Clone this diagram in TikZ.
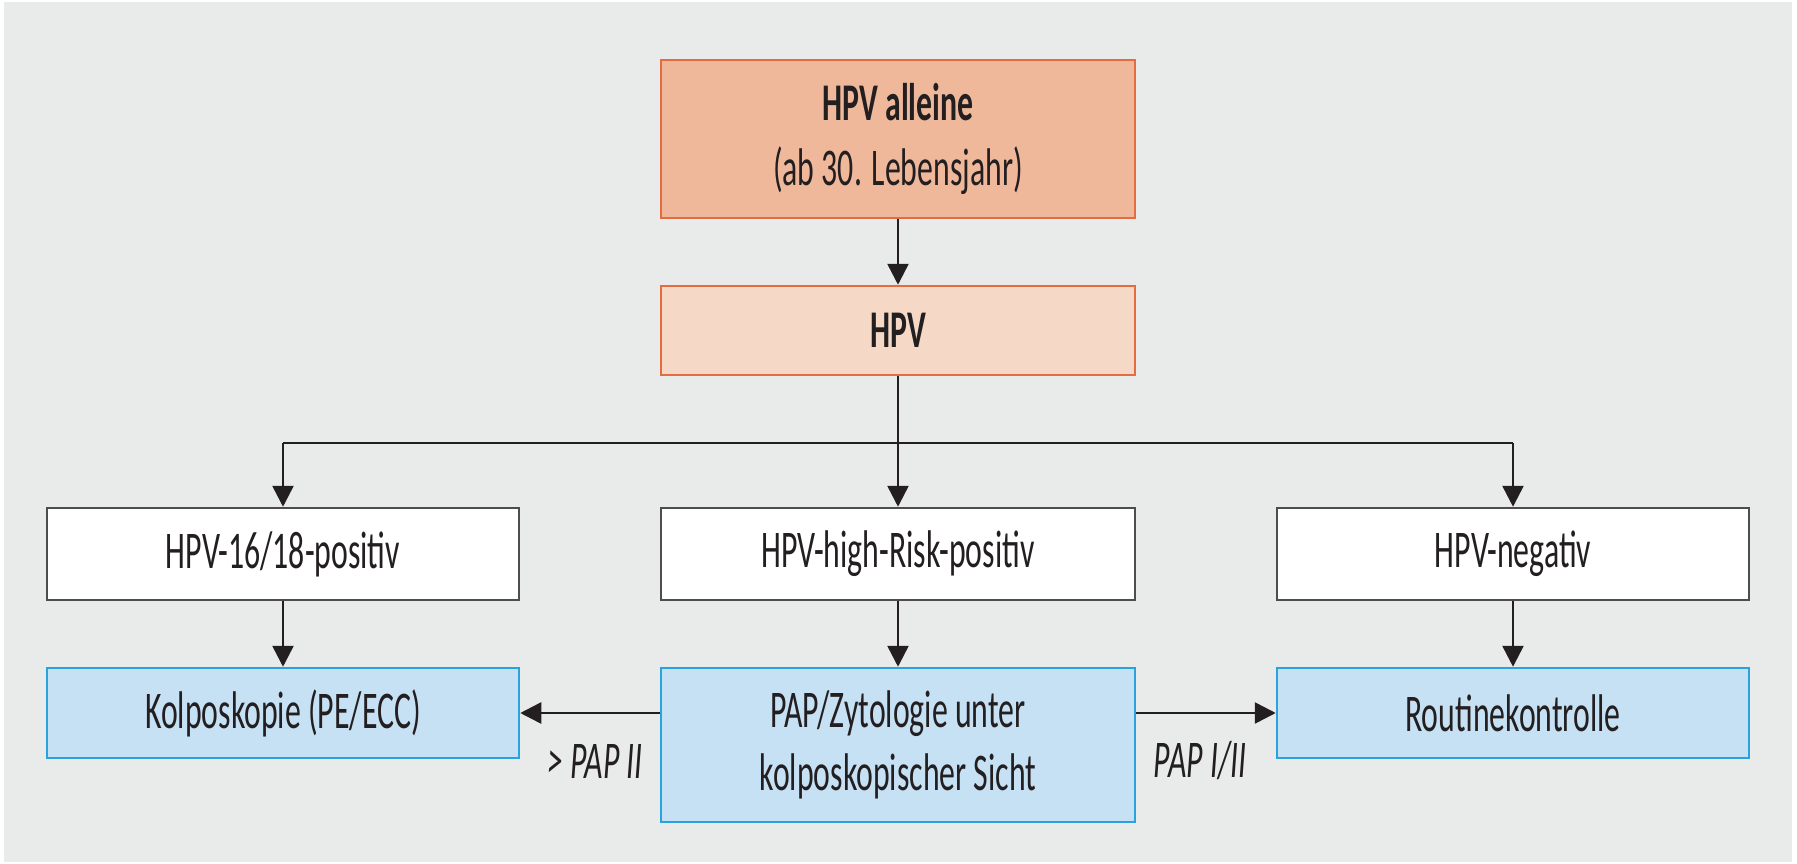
\documentclass[tikz,border=0pt]{standalone}
\usepackage{fontspec}
\setmainfont{Carlito}[FakeStretch=0.60]
\usetikzlibrary{arrows.meta}

\definecolor{bgc}{HTML}{E9EBEA}
\definecolor{ink}{HTML}{231F20}
\definecolor{salmon}{HTML}{EFB89B}
\definecolor{salmonlt}{HTML}{F5D8C6}
\definecolor{orangeline}{HTML}{E46C3E}
\definecolor{greyline}{HTML}{4D4D4D}
\definecolor{bluefill}{HTML}{C6E0F4}
\definecolor{blueline}{HTML}{29A3DD}

\tikzset{
  box/.style={draw, line width=2.5pt, inner sep=0pt, align=center,
    text=ink, font=\fontsize{53}{63}\selectfont},
  headbox/.style={box, draw=orangeline, fill=salmon, font=\fontsize{53}{65}\selectfont},
  subbox/.style={box, draw=orangeline, fill=salmonlt, font=\bfseries\fontsize{53}{63}\selectfont},
  resultbox/.style={box, draw=greyline, fill=white},
  actionbox/.style={box, draw=blueline, fill=bluefill},
  flow/.style={draw=ink, line width=2.6pt, -{Triangle[length=21pt,width=21pt]}},
  plain/.style={draw=ink, line width=2.6pt},
  edgelabel/.style={text=ink, font=\itshape\fontsize{53}{58}\selectfont}
}

\begin{document}
\begin{tikzpicture}[x=1pt,y=-1pt]
  \useasboundingbox (0,0) rectangle (1797,864);
  \fill[white] (0,0) rectangle (1797,864);
  \fill[bgc] (4,2) rectangle (1792,862);

  % top of the flow
  \node[headbox, minimum width=474pt, minimum height=158pt] (start) at (898,139)
    {\textbf{HPV alleine}\\(ab 30. Lebensjahr)};
  \node[subbox, minimum width=474pt, minimum height=89pt] (hpv) at (898,330.5) {HPV};

  % test results
  \node[resultbox, minimum width=472pt, minimum height=92pt] (pos1618) at (283,554) {HPV-16/18-positiv};
  \node[resultbox, minimum width=474pt, minimum height=92pt] (poshr) at (898,554) {HPV-high-Risk-positiv};
  \node[resultbox, minimum width=472pt, minimum height=92pt] (neg) at (1513,554) {HPV-negativ};

  % follow-up actions
  \node[actionbox, minimum width=472pt, minimum height=90pt] (kolpo) at (283,713) {Kolposkopie (PE/ECC)};
  \node[actionbox, minimum width=474pt, minimum height=154pt] (pap) at (898,745)
    {PAP/Zytologie unter\\kolposkopischer Sicht};
  \node[actionbox, minimum width=472pt, minimum height=90pt] (routine) at (1513,713) {Routinekontrolle};

  % branching
  \coordinate (split) at (898,443);
  \path[flow] (start) -- (hpv);
  \path[plain] (hpv.south) -- (split);
  \path[plain] (pos1618.north |- split) -- (neg.north |- split);
  \path[flow] (pos1618.north |- split) -- (pos1618.north);
  \path[flow] (split) -- (poshr.north);
  \path[flow] (neg.north |- split) -- (neg.north);

  \path[flow] (pos1618) -- (kolpo);
  \path[flow] (poshr) -- (pap);
  \path[flow] (neg) -- (routine);

  % outcomes of the cytology
  \path[flow] (kolpo.east -| pap.west) -- node[edgelabel, yshift=-48pt, xshift=5pt] (gtlabel) {> PAP II} (kolpo.east);
  \path[flow] (routine.west -| pap.east) -- node[edgelabel, yshift=-48pt, xshift=-6pt] (oklabel) {PAP I/II} (routine.west);
\end{tikzpicture}
\end{document}
